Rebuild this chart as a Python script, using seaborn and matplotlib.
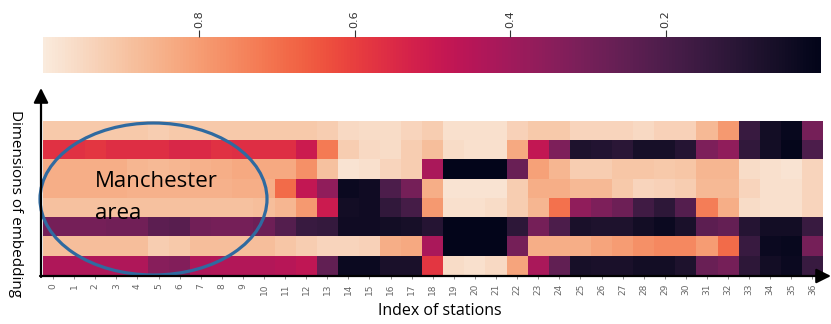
import numpy as np
import pandas as pd
import seaborn as sns
import matplotlib
matplotlib.use("Agg")
import matplotlib.pyplot as plt
from matplotlib.patches import Ellipse

stations = [str(i) for i in range(37)]
dims = ["d0", "d1", "d2", "d3", "d4", "d5", "d6", "d7"]

dim0 = [0.91, 0.91, 0.91, 0.91, 0.91, 0.92, 0.91, 0.91, 0.91, 0.91, 0.91, 0.91, 0.91, 0.92, 0.95, 0.96, 0.96, 0.94, 0.92,
        0.97, 0.97, 0.97, 0.93, 0.91, 0.91, 0.94, 0.94, 0.94, 0.95, 0.93, 0.93, 0.87, 0.79, 0.15, 0.05, 0.02, 0.30]
dim1 = [0.57, 0.57, 0.58, 0.56, 0.56, 0.56, 0.54, 0.55, 0.57, 0.56, 0.56, 0.56, 0.50, 0.72, 0.92, 0.95, 0.96, 0.92, 0.88,
        0.96, 0.97, 0.97, 0.83, 0.48, 0.32, 0.08, 0.09, 0.11, 0.06, 0.06, 0.10, 0.32, 0.36, 0.13, 0.05, 0.01, 0.20]
dim2 = [0.84, 0.84, 0.84, 0.84, 0.86, 0.87, 0.86, 0.85, 0.84, 0.83, 0.83, 0.83, 0.77, 0.89, 0.98, 0.97, 0.94, 0.92, 0.42,
        0.00, 0.00, 0.00, 0.27, 0.81, 0.86, 0.92, 0.92, 0.90, 0.90, 0.91, 0.90, 0.86, 0.86, 0.96, 0.97, 0.98, 0.94]
dim3 = [0.84, 0.84, 0.84, 0.84, 0.85, 0.85, 0.85, 0.85, 0.85, 0.84, 0.84, 0.69, 0.48, 0.36, 0.03, 0.04, 0.20, 0.30, 0.84,
        0.98, 0.98, 0.98, 0.92, 0.84, 0.84, 0.87, 0.87, 0.91, 0.94, 0.93, 0.92, 0.87, 0.87, 0.94, 0.97, 0.97, 0.94]
dim4 = [0.89, 0.89, 0.89, 0.89, 0.89, 0.89, 0.89, 0.89, 0.89, 0.89, 0.88, 0.86, 0.79, 0.50, 0.05, 0.04, 0.13, 0.18, 0.79,
        0.97, 0.97, 0.96, 0.92, 0.86, 0.70, 0.36, 0.32, 0.28, 0.17, 0.12, 0.22, 0.73, 0.84, 0.96, 0.97, 0.97, 0.94]
dim5 = [0.30, 0.30, 0.30, 0.29, 0.29, 0.24, 0.23, 0.29, 0.30, 0.30, 0.28, 0.22, 0.15, 0.14, 0.04, 0.04, 0.05, 0.06, 0.10,
        0.00, 0.00, 0.00, 0.12, 0.30, 0.20, 0.07, 0.08, 0.08, 0.05, 0.03, 0.07, 0.24, 0.26, 0.10, 0.05, 0.05, 0.15]
dim6 = [0.88, 0.88, 0.88, 0.88, 0.88, 0.92, 0.91, 0.88, 0.88, 0.88, 0.88, 0.90, 0.92, 0.94, 0.94, 0.93, 0.84, 0.83, 0.42,
        0.00, 0.00, 0.00, 0.30, 0.84, 0.84, 0.84, 0.82, 0.80, 0.77, 0.75, 0.75, 0.80, 0.69, 0.15, 0.03, 0.02, 0.30]
dim7 = [0.43, 0.43, 0.43, 0.43, 0.43, 0.34, 0.33, 0.43, 0.44, 0.44, 0.44, 0.45, 0.47, 0.25, 0.03, 0.03, 0.07, 0.07, 0.58,
        0.96, 0.97, 0.95, 0.82, 0.42, 0.25, 0.06, 0.07, 0.07, 0.05, 0.05, 0.08, 0.27, 0.30, 0.12, 0.05, 0.03, 0.15]

cbar_ticks = [0.2, 0.4, 0.6, 0.8]

df = pd.DataFrame([dim0, dim1, dim2, dim3, dim4, dim5, dim6, dim7], index=dims, columns=stations)

W, H = 831, 324
fig = plt.figure(figsize=(W / 100, H / 100), dpi=100)
ax = fig.add_axes([42.5 / W, 1 - 275 / H, 780.5 / W, 154.3 / H])
cax = fig.add_axes([43.3 / W, 1 - 72.7 / H, 778 / W, 36 / H])

sns.heatmap(df, ax=ax, cmap="rocket", vmin=0, vmax=1, cbar_ax=cax,
            cbar_kws={"orientation": "horizontal", "ticks": cbar_ticks},
            xticklabels=True, yticklabels=False)

cax.invert_xaxis()
cax.xaxis.set_ticks_position("top")
cax.set_xticks(cbar_ticks)
cax.set_xticklabels([f"{t:.1f}" for t in cbar_ticks], rotation=90, fontsize=8, color="#333333")
cax.tick_params(axis="x", length=5, width=0.8, colors="#333333", pad=1)

ax.tick_params(axis="x", length=3, width=0.6, colors="#777777", pad=3)
for lab in ax.get_xticklabels():
    lab.set_rotation(90)
    lab.set_fontsize(6.5)
    lab.set_color("#666666")
ax.tick_params(axis="y", length=0)
ax.set_xlabel("Index of stations", fontsize=11.5, family="Open Sans", va="center")
ax.xaxis.set_label_coords((440 - 42.5) / 780.5, (275 - 311) / 154.3)
ax.set_ylabel("Dimensions of embedding", fontsize=11, family="Open Sans",
              rotation=-90, va="center", ha="center")
ax.yaxis.set_label_coords((15 - 42.5) / 780.5, (275 - 204) / 154.3)
for s in ax.spines.values():
    s.set_visible(False)

# axis arrows
ax.annotate("", xy=(41, H - 88), xytext=(41, H - 277), xycoords="figure pixels",
            textcoords="figure pixels", annotation_clip=False,
            arrowprops=dict(arrowstyle="-|>", color="black", lw=1.6, mutation_scale=22, shrinkA=0, shrinkB=0))
ax.annotate("", xy=(831, H - 276), xytext=(40, H - 276), xycoords="figure pixels",
            textcoords="figure pixels", annotation_clip=False,
            arrowprops=dict(arrowstyle="-|>", color="black", lw=1.6, mutation_scale=22, shrinkA=0, shrinkB=0))

# Manchester ellipse (axes-fraction placement)
ell = Ellipse(((153.5 - 42.5) / 780.5, (275 - 199) / 154.3), 227 / 780.5, 152 / 154.3,
              transform=ax.transAxes, fill=False, edgecolor="#2f6aa0", lw=2.3, clip_on=False)
ax.add_patch(ell)
fig.text(95 / W, 1 - 187 / H, "Manchester", fontsize=16, family="Open Sans",
         va="baseline", ha="left", color="black")
fig.text(95 / W, 1 - 219 / H, "area", fontsize=16, family="Open Sans",
         va="baseline", ha="left", color="black")

fig.savefig("out.png", dpi=100)
